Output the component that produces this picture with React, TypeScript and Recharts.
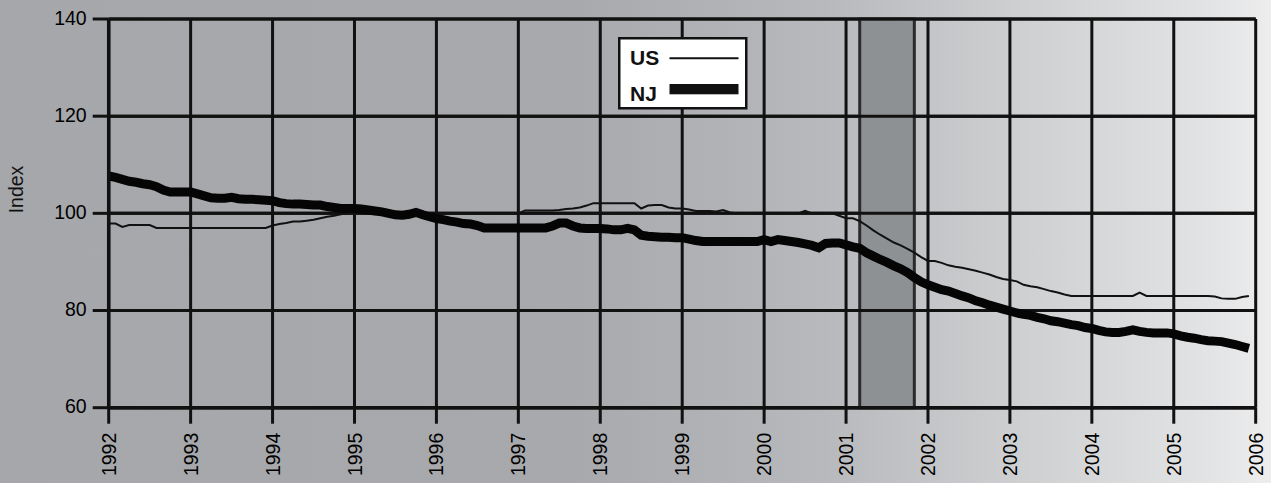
import React from 'react';
import {
  LineChart,
  Line,
  XAxis,
  YAxis,
  CartesianGrid,
  ReferenceArea,
  ReferenceLine,
  Legend,
} from 'recharts';

const START_YEAR = 1992;

// Monthly index values, Jan 1992 .. Dec 2005 (12 per row)
const usIndex = [
  97.9, 97.9, 97.2, 97.6, 97.6, 97.6, 97.6, 97.0, 97.0, 97.0, 97.0, 97.0, // 1992
  97.0, 97.0, 97.0, 97.0, 97.0, 97.0, 97.0, 97.0, 97.0, 97.0, 97.0, 97.0, // 1993
  97.5, 97.8, 98.0, 98.3, 98.3, 98.5, 98.7, 99.0, 99.3, 99.5, 99.8, 100.0, // 1994
  100.5, 100.8, 100.8, 100.6, 100.5, 100.3, 100.2, 100.0, 100.0, 100.0, 100.0, 100.0, // 1995
  100.0, 100.0, 100.0, 100.0, 100.0, 100.0, 100.0, 100.0, 100.0, 100.0, 100.0, 100.0, // 1996
  100.0, 100.6, 100.6, 100.6, 100.6, 100.6, 100.7, 100.9, 101.0, 101.2, 101.6, 102.1, // 1997
  102.1, 102.1, 102.1, 102.1, 102.1, 102.1, 101.0, 101.6, 101.7, 101.7, 101.2, 101.0, // 1998
  101.0, 100.8, 100.5, 100.5, 100.5, 100.4, 100.7, 100.2, 100.0, 100.0, 100.0, 100.0, // 1999
  100.0, 100.0, 100.0, 100.0, 100.0, 100.0, 100.5, 100.0, 100.0, 100.0, 100.0, 99.5, // 2000
  99.0, 99.0, 98.4, 97.5, 96.5, 95.6, 94.8, 94.0, 93.4, 92.7, 91.9, 91.0, // 2001
  90.2, 90.2, 89.8, 89.3, 89.0, 88.8, 88.5, 88.2, 87.8, 87.4, 86.9, 86.5, // 2002
  86.3, 86.0, 85.3, 85.0, 84.8, 84.4, 84.0, 83.7, 83.3, 83.0, 83.0, 83.0, // 2003
  83.0, 83.0, 83.0, 83.0, 83.0, 83.0, 83.0, 83.7, 83.0, 83.0, 83.0, 83.0, // 2004
  83.0, 83.0, 83.0, 83.0, 83.0, 83.0, 82.9, 82.5, 82.4, 82.4, 82.8, 83.0, // 2005
];

const njIndex = [
  107.7, 107.4, 107.0, 106.6, 106.4, 106.1, 105.9, 105.5, 104.8, 104.4, 104.4, 104.4, // 1992
  104.4, 104.0, 103.6, 103.2, 103.1, 103.1, 103.3, 103.0, 102.9, 102.9, 102.8, 102.7, // 1993
  102.6, 102.2, 102.0, 101.9, 101.9, 101.8, 101.7, 101.7, 101.4, 101.2, 101.0, 101.0, // 1994
  101.0, 100.9, 100.7, 100.5, 100.3, 100.0, 99.7, 99.6, 99.8, 100.2, 99.7, 99.3, // 1995
  98.9, 98.7, 98.4, 98.2, 97.9, 97.8, 97.5, 97.0, 97.0, 97.0, 97.0, 97.0, // 1996
  97.0, 97.0, 97.0, 97.0, 97.0, 97.4, 98.0, 98.0, 97.4, 97.0, 96.9, 96.9, // 1997
  96.9, 96.8, 96.6, 96.6, 96.9, 96.6, 95.5, 95.3, 95.2, 95.1, 95.1, 95.0, // 1998
  95.0, 94.7, 94.4, 94.2, 94.2, 94.2, 94.2, 94.2, 94.2, 94.2, 94.2, 94.2, // 1999
  94.6, 94.2, 94.6, 94.4, 94.2, 94.0, 93.7, 93.4, 92.9, 93.8, 93.9, 93.9, // 2000
  93.5, 93.1, 92.8, 91.9, 91.2, 90.5, 89.9, 89.2, 88.6, 87.8, 86.8, 85.9, // 2001
  85.3, 84.8, 84.3, 84.0, 83.5, 83.0, 82.6, 82.0, 81.6, 81.1, 80.7, 80.3, // 2002
  79.9, 79.5, 79.2, 79.0, 78.6, 78.3, 77.9, 77.7, 77.4, 77.1, 76.9, 76.5, // 2003
  76.3, 75.9, 75.6, 75.5, 75.5, 75.7, 76.0, 75.7, 75.5, 75.4, 75.4, 75.4, // 2004
  75.2, 74.8, 74.5, 74.3, 74.0, 73.8, 73.7, 73.6, 73.3, 73.0, 72.6, 72.2, // 2005
];

const yearTicks = [1992, 1993, 1994, 1995, 1996, 1997, 1998, 1999, 2000, 2001, 2002, 2003, 2004, 2005, 2006];
const indexTicks = [60, 80, 100, 120, 140];
const recessionStart = 2001 + 2 / 12;
const recessionEnd = 2001 + 10 / 12;
const seriesNames = { us: 'US', nj: 'NJ' };

const data = usIndex.map((v, i) => ({
  t: START_YEAR + i / 12,
  us: v,
  nj: njIndex[i],
}));

const FONT = '"Liberation Sans", Arial, Helvetica, sans-serif';

const YearTick = (props: any) => {
  const { x, y, payload } = props;
  return (
    <text
      x={x}
      y={y}
      transform={`rotate(-90, ${x}, ${y})`}
      textAnchor="end"
      dy="0.36em"
      fill="#000"
      fontSize={19.5}
      fontFamily={FONT}
    >
      {payload.value}
    </text>
  );
};

const IndexTick = (props: any) => {
  const { x, y, payload } = props;
  return (
    <text x={x} y={y} dy="0.29em" textAnchor="end" fill="#000" fontSize={19.5} fontFamily={FONT}>
      {payload.value}
    </text>
  );
};

const LegendBox = () => (
  <svg width={130} height={73} style={{ display: 'block' }}>
    <rect x={1.25} y={1.25} width={127} height={70} fill="#fff" stroke="#111" strokeWidth={2.5} />
    <text x={12} y={28} fontSize={21} fontWeight="bold" fontFamily={FONT} fill="#111">
      {seriesNames.us}
    </text>
    <line x1={51.5} x2={120.5} y1={21.3} y2={21.3} stroke="#111" strokeWidth={2} />
    <text x={12} y={63.7} fontSize={21} fontWeight="bold" fontFamily={FONT} fill="#111">
      {seriesNames.nj}
    </text>
    <rect x={51.5} y={47} width={69} height={10.3} fill="#111" />
  </svg>
);

export default function App() {
  return (
    <div
      style={{
        position: 'absolute',
        left: 0,
        top: 0,
        width: 1271,
        height: 483,
        background:
          'linear-gradient(to right, #a6a7aa 0%, #a8a9ac 45%, #b7b9bc 65%, #cdcfd1 80%, #e2e3e4 95%, #ededee 100%)',
        fontFamily: FONT,
      }}
    >
      <LineChart
        width={1271}
        height={483}
        data={data}
        margin={{ top: 19, right: 15.3, bottom: 0, left: 0 }}
      >
        <CartesianGrid stroke="#111" strokeWidth={3} />
        <ReferenceArea
          x1={recessionStart}
          x2={recessionEnd}
          y1={60}
          y2={140}
          fill="#8e9194"
          fillOpacity={1}
          stroke="#2b2b2b"
          strokeWidth={3}
        />
        {indexTicks.map((v) => (
          <ReferenceLine key={v} y={v} stroke="#111" strokeWidth={3} />
        ))}
        <XAxis
          dataKey="t"
          type="number"
          domain={[1992, 2006]}
          ticks={yearTicks}
          interval={0}
          height={75.3}
          tickSize={16}
          tickMargin={9}
          axisLine={{ stroke: '#111', strokeWidth: 3.5 }}
          tickLine={{ stroke: '#111', strokeWidth: 3 }}
          tick={<YearTick />}
          allowDataOverflow
        />
        <YAxis
          type="number"
          domain={[60, 140]}
          ticks={indexTicks}
          interval={0}
          width={108.7}
          tickSize={16}
          tickMargin={6}
          axisLine={{ stroke: '#111', strokeWidth: 3.5 }}
          tickLine={{ stroke: '#111', strokeWidth: 3 }}
          tick={<IndexTick />}
          label={{
            value: 'Index',
            angle: -90,
            position: 'insideLeft',
            offset: 0,
            fill: '#111',
            fontSize: 19.5,
            fontFamily: FONT,
            dx: 16,
          }}
        />
        <Legend
          layout="vertical"
          align="center"
          verticalAlign="middle"
          wrapperStyle={{ left: 618, top: 37, width: 130, height: 73 }}
          content={() => <LegendBox />}
        />
        <Line
          type="linear"
          dataKey="us"
          name={seriesNames.us}
          stroke="#111"
          strokeWidth={2}
          dot={false}
          activeDot={false}
          isAnimationActive={false}
        />
        <Line
          type="linear"
          dataKey="nj"
          name={seriesNames.nj}
          stroke="#050505"
          strokeWidth={9}
          dot={false}
          activeDot={false}
          isAnimationActive={false}
        />
      </LineChart>
    </div>
  );
}
